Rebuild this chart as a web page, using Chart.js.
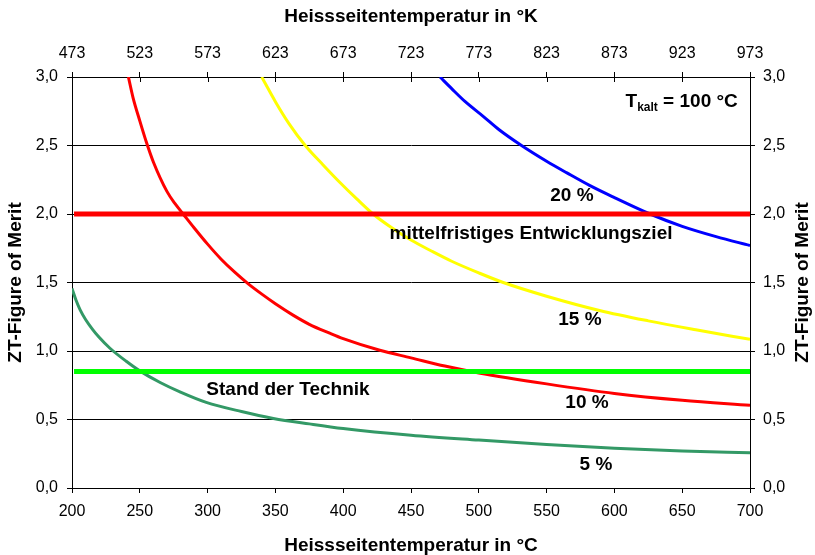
<!DOCTYPE html>
<html>
<head>
<meta charset="utf-8">
<script src="https://cdn.jsdelivr.net/npm/chart.js@4.4.1/dist/chart.umd.min.js"></script>
<style>
  body { margin: 0; background: #fff; }
  #wrap { width: 815px; height: 555px; }
</style>
</head>
<body>
<div id="wrap"><canvas id="myChart" width="815" height="555"></canvas></div>
<script>
// values (hot side temp in C, ZT needed)
var t5 = [200, 203, 206, 210, 215, 220, 228, 240, 250, 265, 280, 299, 325, 348.5, 375, 400, 450, 500, 550, 600, 650, 700];
var zt5 = [1.456, 1.37, 1.3, 1.23, 1.16, 1.1, 1.02, 0.925, 0.855, 0.77, 0.7, 0.625, 0.558, 0.508, 0.468, 0.434, 0.385, 0.35, 0.318, 0.29, 0.27, 0.257];

var t10 = [241.6, 245, 250, 255, 260, 270, 276, 282, 290, 300, 310, 320, 330, 340, 350, 363, 375, 390, 400, 427, 450, 475, 500, 550, 600, 650, 700];
var zt10 = [3.0, 2.85, 2.68, 2.52, 2.38, 2.165, 2.075, 2.0, 1.9, 1.78, 1.67, 1.575, 1.49, 1.415, 1.345, 1.262, 1.195, 1.13, 1.09, 1.005, 0.95, 0.89, 0.84, 0.76, 0.69, 0.64, 0.604];

var t15 = [339.9, 350, 360, 372, 385, 397.6, 410, 422, 435, 450, 465, 480, 500, 518, 550, 589, 625, 660, 700];
var zt15 = [3.0, 2.82, 2.66, 2.5, 2.36, 2.23, 2.11, 2.0, 1.905, 1.81, 1.73, 1.655, 1.57, 1.5, 1.4, 1.296, 1.22, 1.155, 1.085];

var t20 = [471.4, 480, 490, 503, 515, 531.5, 550, 565, 582, 600, 626.3, 650, 675, 700];
var zt20 = [3.0, 2.915, 2.82, 2.715, 2.615, 2.5, 2.385, 2.3, 2.207, 2.12, 2.0, 1.91, 1.835, 1.77];

var refRange = [201.5, 700];
var goalLevel = 2.0;   // mittelfristiges Entwicklungsziel
var stateLevel = 0.85; // Stand der Technik

var kelvinTicks = [473, 523, 573, 623, 673, 723, 773, 823, 873, 923, 973];

function pts(xs, ys) {
  return xs.map(function (x, i) { return { x: x, y: ys[i] }; });
}
function level(v) {
  return refRange.map(function (x) { return { x: x, y: v }; });
}
function comma(v) {
  return Number(v).toFixed(1).replace('.', ',');
}

var FONT = "'Liberation Sans', Arial, sans-serif";
Chart.defaults.font.family = FONT;
Chart.defaults.color = '#000';

// text labels inside the plot
var notes = [
  { text: '20 %', x: 568.7, y: 2.13 },
  { text: 'mittelfristiges Entwicklungsziel', x: 538.5, y: 1.855 },
  { text: '15 %', x: 574.6, y: 1.23 },
  { text: '10 %', x: 579.8, y: 0.62 },
  { text: '5 %', x: 586.4, y: 0.17 },
  { text: 'Stand der Technik', x: 359.3, y: 0.72 }
];

var notePlugin = {
  id: 'notes',
  afterDatasetsDraw: function (chart) {
    var ctx = chart.ctx;
    var xs = chart.scales.x, ys = chart.scales.y;
    ctx.save();
    ctx.fillStyle = '#000';
    ctx.textBaseline = 'middle';
    ctx.textAlign = 'center';
    ctx.font = 'bold 19px ' + FONT;
    notes.forEach(function (n) {
      ctx.fillText(n.text, xs.getPixelForValue(n.x), ys.getPixelForValue(n.y));
    });
    // T_kalt = 100 °C, right aligned
    var right = xs.getPixelForValue(691);
    var base = ys.getPixelForValue(2.825) + 6;
    ctx.textAlign = 'left';
    ctx.textBaseline = 'alphabetic';
    ctx.font = 'bold 19px ' + FONT;
    var wT = ctx.measureText('T').width;
    var wRest = ctx.measureText(' = 100 °C').width;
    ctx.font = 'bold 12px ' + FONT;
    var wSub = ctx.measureText('kalt').width;
    var x0 = right - wT - wSub - wRest;
    ctx.font = 'bold 19px ' + FONT;
    ctx.fillText('T', x0, base);
    ctx.font = 'bold 12px ' + FONT;
    ctx.fillText('kalt', x0 + wT, base + 4);
    ctx.font = 'bold 19px ' + FONT;
    ctx.fillText(' = 100 °C', x0 + wT + wSub, base);
    // right axis title, reading bottom to top like the left one
    var ya = chart.scales.y2;
    ctx.font = 'bold 19px ' + FONT;
    ctx.textAlign = 'center';
    ctx.textBaseline = 'middle';
    ctx.translate(ya.right - 12, (ya.top + ya.bottom) / 2);
    ctx.rotate(-Math.PI / 2);
    ctx.fillText('ZT-Figure of Merit', 0, 0);
    ctx.setTransform(1, 0, 0, 1, 0, 0);
    // inner half of the top axis tick marks
    var top = chart.scales.x2;
    ctx.strokeStyle = '#000';
    ctx.lineWidth = 1;
    top.ticks.forEach(function (t) {
      var px = Math.round(top.getPixelForValue(t.value)) + 0.5;
      ctx.beginPath();
      ctx.moveTo(px, chart.chartArea.top);
      ctx.lineTo(px, chart.chartArea.top + 5);
      ctx.stroke();
    });
    ctx.restore();
  }
};

var ctx = document.getElementById('myChart').getContext('2d');
var myChart = new Chart(ctx, {
  type: 'line',
  data: {
    datasets: [
      { label: 'Entwicklungsziel', data: level(goalLevel), borderColor: '#ff0000', borderWidth: 5, xAxisID: 'x', yAxisID: 'y' },
      { label: 'Stand der Technik', data: level(stateLevel), borderColor: '#00ff00', borderWidth: 5, xAxisID: 'x', yAxisID: 'y' },
      { label: '20 %', data: pts(t20, zt20), borderColor: '#0000ff', borderWidth: 3, cubicInterpolationMode: 'monotone', xAxisID: 'x', yAxisID: 'y' },
      { label: '15 %', data: pts(t15, zt15), borderColor: '#ffff00', borderWidth: 3, cubicInterpolationMode: 'monotone', xAxisID: 'x', yAxisID: 'y' },
      { label: '10 %', data: pts(t10, zt10), borderColor: '#ff0000', borderWidth: 3, cubicInterpolationMode: 'monotone', xAxisID: 'x', yAxisID: 'y' },
      { label: '5 %', data: pts(t5, zt5), borderColor: '#339966', borderWidth: 3, cubicInterpolationMode: 'monotone', xAxisID: 'x', yAxisID: 'y' }
    ]
  },
  options: {
    responsive: false,
    animation: false,
    events: [],
    elements: { point: { radius: 0 } },
    layout: { padding: 0 },
    plugins: { legend: { display: false }, tooltip: { enabled: false } },
    scales: {
      x: {
        type: 'linear', position: 'bottom', min: 200, max: 700,
        afterFit: function (s) { s.height = 67; },
        ticks: { stepSize: 50, padding: 9, font: { size: 16 } },
        grid: { display: true, drawOnChartArea: false, drawTicks: true, tickLength: 5, color: '#000' },
        border: { display: true, color: '#000', width: 1 },
        title: { display: true, text: 'Heissseitentemperatur in °C', font: { size: 19, weight: 'bold', lineHeight: 1 }, padding: { top: 0, bottom: 0 } }
      },
      x2: {
        type: 'linear', position: 'top', min: 473, max: 973,
        afterFit: function (s) { s.height = 77; },
        afterBuildTicks: function (s) { s.ticks = kelvinTicks.map(function (v) { return { value: v }; }); },
        ticks: { padding: 9, font: { size: 16 } },
        grid: { display: true, drawOnChartArea: false, drawTicks: true, tickLength: 5, color: '#000' },
        border: { display: true, color: '#000', width: 1 },
        title: { display: true, text: 'Heissseitentemperatur in °K', font: { size: 19, weight: 'bold', lineHeight: 1 }, padding: { top: 7, bottom: 0 } }
      },
      y: {
        type: 'linear', position: 'left', min: 0, max: 3,
        afterFit: function (s) { s.width = 72; },
        ticks: { stepSize: 0.5, padding: 9, font: { size: 16 }, callback: function (v) { return comma(v); } },
        grid: { display: true, drawTicks: true, tickLength: 5, color: '#000', lineWidth: 1 },
        border: { display: true, color: '#000', width: 1 },
        title: { display: true, text: 'ZT-Figure of Merit', font: { size: 19, weight: 'bold', lineHeight: 1 }, padding: { top: 6, bottom: 0 } }
      },
      y2: {
        type: 'linear', position: 'right', min: 0, max: 3,
        afterFit: function (s) { s.width = 65; },
        ticks: { stepSize: 0.5, padding: 8, font: { size: 16 }, callback: function (v) { return comma(v); } },
        grid: { display: true, drawOnChartArea: false, drawTicks: true, tickLength: 5, color: '#000' },
        border: { display: true, color: '#000', width: 1 },
        title: { display: false }
      }
    }
  },
  plugins: [notePlugin]
});
</script>
</body>
</html>
